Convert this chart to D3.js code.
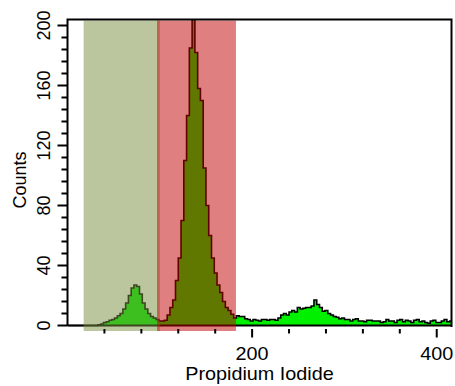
<!DOCTYPE html>
<html>
<head>
<meta charset="utf-8">
<script src="https://cdn.jsdelivr.net/npm/d3@7/dist/d3.min.js"></script>
<style>
  body { margin: 0; background: #fff; }
  svg { display: block; font-family: 'Liberation Sans', Arial, sans-serif; }
</style>
</head>
<body>
<svg id="chart" width="455" height="386"></svg>
<script>
// histogram: bin start (PI units) and counts
const binWidth = 3;
const counts = [
  0, 0, 0, 0, 0, 0, 0, 0, 0, 0, 0, 0.5,
  1, 2, 2.5, 3.5, 4, 5, 6.5, 8, 11, 15, 20, 25,
  27, 26, 21, 15, 11, 8, 6, 5, 4, 3, 3, 3.5,
  7, 12, 17, 30, 45, 70, 110, 140, 185, 206, 182, 158,
  150, 105, 80, 60, 45, 35, 27, 22, 16, 12, 10, 7.5,
  5, 6.5, 6, 6, 4.5, 4, 3, 4, 3.5, 3, 4, 4,
  3.5, 4, 4, 3.5, 5, 7, 8, 7, 9, 10, 9, 12,
  11, 11.5, 12, 12, 13, 17, 14, 12, 9.5, 10, 8, 7,
  6, 5.5, 4.5, 5, 4, 4, 3, 4, 4.5, 3, 3, 2.5,
  3.5, 3.5, 3, 3, 3, 2, 2.5, 4, 3, 3, 2, 3.5,
  4, 2.5, 3.5, 3, 2, 3.5, 4, 2.5, 3, 2, 1.5, 3,
  3.5, 2, 2, 3, 4, 2.5, 3
];
const bins = counts.map((c, i) => ({ x: i * binWidth, y: c }));

const gates = [
  { name: 'G1', from: 17.5, to: 100, fill: 'rgba(120,142,62,0.5)' },
  { name: 'S-G2M', from: 97, to: 182.5, fill: 'rgba(192,0,0,0.5)' }
];

const xDomain = [0, 416];
const yDomain = [0, 204];
const xMinorTicks = [40, 80, 120, 160, 240, 280, 320, 360];
const xMajorTicks = [200, 400];
const yMajorTicks = [0, 40, 80, 120, 160, 200];
const yMinorTicks = d3.range(0, 205, 8).filter(v => v % 40 !== 0);

const plot = { left: 67.5, right: 451.5, top: 19.5, bottom: 325.5 };

const svg = d3.select('#chart');
const x = d3.scaleLinear().domain(xDomain).range([plot.left, plot.right]);
const y = d3.scaleLinear().domain(yDomain).range([plot.bottom, plot.top]);

svg.append('defs').append('clipPath')
  .attr('id', 'plotClip')
  .append('rect')
  .attr('x', plot.left)
  .attr('y', plot.top)
  .attr('width', plot.right - plot.left)
  .attr('height', 340 - plot.top);

// extend last step to the right edge
const stepData = bins.concat([{ x: bins.length * binWidth, y: bins[bins.length - 1].y }]);

const area = d3.area()
  .curve(d3.curveStepAfter)
  .x(d => x(d.x))
  .y0(y(0))
  .y1(d => y(d.y));

const line = d3.line()
  .curve(d3.curveStepAfter)
  .x(d => x(d.x))
  .y(d => y(d.y));

const g = svg.append('g').attr('clip-path', 'url(#plotClip)');

g.append('path')
  .datum(stepData)
  .attr('d', area)
  .attr('fill', '#00f000');

g.append('line')
  .attr('x1', plot.left).attr('x2', plot.right)
  .attr('y1', y(0)).attr('y2', y(0))
  .attr('stroke', '#000').attr('stroke-width', 2);

g.append('path')
  .datum(stepData)
  .attr('d', line)
  .attr('fill', 'none')
  .attr('stroke', '#000')
  .attr('stroke-width', 1.6);

// gate overlays
svg.selectAll('rect.gate')
  .data(gates)
  .enter().append('rect')
  .attr('class', 'gate')
  .attr('x', d => x(d.from))
  .attr('width', d => x(d.to) - x(d.from))
  .attr('y', plot.top + 1)
  .attr('height', 331 - plot.top - 1)
  .attr('fill', d => d.fill);

// frame
svg.append('path')
  .attr('d', `M${plot.left},${plot.bottom + 0.5} V${plot.top} H${plot.right} V${plot.bottom + 1.5}`)
  .attr('fill', 'none')
  .attr('stroke', '#000')
  .attr('stroke-width', 2);

// y ticks
svg.selectAll('line.ymajor')
  .data(yMajorTicks)
  .enter().append('line')
  .attr('x1', plot.left - 10).attr('x2', plot.left)
  .attr('y1', d => y(d)).attr('y2', d => y(d))
  .attr('stroke', '#000').attr('stroke-width', 2);

svg.selectAll('line.yminor')
  .data(yMinorTicks)
  .enter().append('line')
  .attr('x1', plot.left - 6).attr('x2', plot.left)
  .attr('y1', d => y(d)).attr('y2', d => y(d))
  .attr('stroke', '#000').attr('stroke-width', 2);

svg.selectAll('text.ylabel')
  .data(yMajorTicks)
  .enter().append('text')
  .attr('transform', d => `translate(50,${y(d)}) rotate(-90)`)
  .attr('text-anchor', 'middle')
  .style('font-size', '18px')
  .text(d => d);

// x ticks
svg.selectAll('line.xminor')
  .data(xMinorTicks)
  .enter().append('line')
  .attr('x1', d => x(d)).attr('x2', d => x(d))
  .attr('y1', 329).attr('y2', 333.5)
  .attr('stroke', '#000').attr('stroke-width', 2);

svg.selectAll('line.xmajor')
  .data(xMajorTicks)
  .enter().append('line')
  .attr('x1', d => x(d)).attr('x2', d => x(d))
  .attr('y1', 329).attr('y2', 337.5)
  .attr('stroke', '#000').attr('stroke-width', 2);

svg.selectAll('text.xlabel')
  .data(xMajorTicks)
  .enter().append('text')
  .attr('transform', d => `translate(${x(d)},360) scale(1.1,1)`)
  .attr('text-anchor', 'middle')
  .style('font-size', '18px')
  .text(d => d);

// axis titles
svg.append('text')
  .attr('transform', `translate(${(plot.left + plot.right) / 2},380) scale(1.1,1)`)
  .attr('text-anchor', 'middle')
  .style('font-size', '18px')
  .text('Propidium Iodide');

svg.append('text')
  .attr('transform', 'translate(26,180) rotate(-90)')
  .attr('text-anchor', 'middle')
  .style('font-size', '18px')
  .text('Counts');
</script>
</body>
</html>
